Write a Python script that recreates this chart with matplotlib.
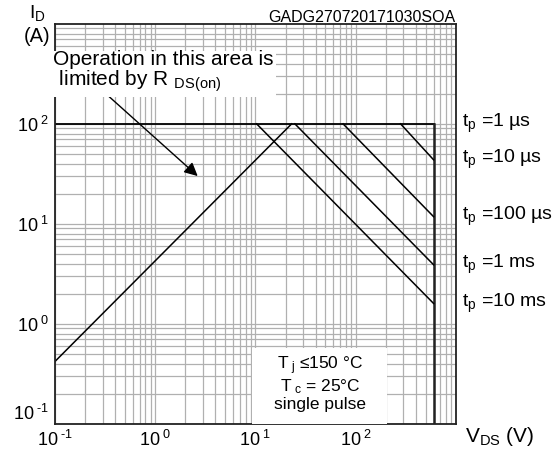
import numpy as np
import matplotlib
matplotlib.use('Agg')
import matplotlib.pyplot as plt
import matplotlib.transforms as mtransforms
from matplotlib.ticker import LogLocator, NullFormatter
from matplotlib.patches import Rectangle

plt.rcParams['font.family'] = ['Liberation Sans', 'DejaVu Sans']
plt.rcParams['mathtext.fontset'] = 'custom'
plt.rcParams['mathtext.rm'] = 'Liberation Sans'
plt.rcParams['mathtext.it'] = 'Liberation Sans'
plt.rcParams['mathtext.default'] = 'regular'

# R_DS(on) limit line
rds_v = [0.1, 23.0]
rds_i = [0.42, 100.0]

# max current / max voltage (1 us boundary)
i_max = 100.0
v_max = 600.0

# pulse lines: start at i_max, end at v_max
pulse_labels = ['1 µs', '10 µs', '100 µs', '1 ms', '10 ms']
pulse_v_start = [281.0, 75.0, 24.8, 10.3]      # 10us, 100us, 1ms, 10ms
pulse_i_end = [43.7, 11.8, 3.9, 1.6]

decades = [0.1, 1, 10, 100]
decade_labels = ['10$^{\\ \u2010 1}$', r'10$^{\ 0}$', r'10$^{\ 1}$', r'10$^{\ 2}$']

fig = plt.figure(figsize=(5.6, 4.5), dpi=100)
ax = fig.add_axes([0.098, 0.058, 0.716, 0.889])
ax.set_xscale('log')
ax.set_yscale('log')
ax.set_xlim(0.1, 1000)
ax.set_ylim(0.1, 1000)

ax.set_xticks(decades)
ax.set_xticklabels(decade_labels)
ax.set_yticks(decades)
ax.set_yticklabels(decade_labels)
ax.get_yticklabels()[0].set_va('bottom')
ax.xaxis.set_minor_locator(LogLocator(base=10, subs=np.arange(2, 10)))
ax.yaxis.set_minor_locator(LogLocator(base=10, subs=np.arange(2, 10)))
ax.xaxis.set_minor_formatter(NullFormatter())
ax.yaxis.set_minor_formatter(NullFormatter())
ax.tick_params(which='both', length=0, labelsize=13)
ax.tick_params(axis='x', pad=4)
ax.tick_params(axis='y', pad=4)
ax.grid(which='both', color='#b0b0b0', lw=0.9)
ax.set_axisbelow(True)
for s in ax.spines.values():
    s.set_linewidth(1.3)
    s.set_color('#222222')

# lines
ax.plot(rds_v, rds_i, color='k', lw=1.1)
ax.plot([0.1, v_max], [i_max, i_max], color='k', lw=1.3)
ax.plot([v_max, v_max], [i_max, 0.1], color='#222222', lw=1.8)
for v0, i1 in zip(pulse_v_start, pulse_i_end):
    ax.plot([v0, v_max], [i_max, i1], color='k', lw=1.1)

# pulse labels on the right
trans = mtransforms.blended_transform_factory(ax.transAxes, ax.transData)
for lab, y in zip(pulse_labels, [i_max] + pulse_i_end):
    ax.text(1.015, y, r't$_p$ =' + lab, transform=trans, fontsize=14,
            va='center', ha='left', clip_on=False)

# R_DS(on) note
ax.text(-0.005, 0.935, 'Operation in this area is\n limited by R $_{DS(on)}$',
        transform=ax.transAxes, fontsize=15, va='top', ha='left',
        linespacing=1.0, zorder=4,
        bbox=dict(fc='white', ec='none', pad=2))
ax.annotate('', xy=(2.79, 28.8), xytext=(0.323, 200),
            arrowprops=dict(arrowstyle='-|>', color='k', lw=1,
                            mutation_scale=20))

# conditions box
ax.add_patch(Rectangle((0.491, 0.0), 0.337, 0.19, transform=ax.transAxes,
                       fc='white', ec='none', zorder=3))
ax.text(0.661, 0.102, 'T$_{\\ j}$ ≤150 °C\nT$_{\\ c}$ = 25°C\nsingle pulse',
        transform=ax.transAxes, fontsize=12.5, ha='center', va='center',
        linespacing=1.05, zorder=4)

# axis titles
fig.text(37 / 560, 1 - 13 / 450, 'I$_D$', fontsize=14, ha='center', va='center')
fig.text(37 / 560, 1 - 37 / 450, '(A)', fontsize=14.5, ha='center', va='center')
fig.text(465 / 560, 1 - 437 / 450, 'V$_{DS}$ (V)', fontsize=15, ha='left', va='center')
fig.text(455 / 560, 1 - 17 / 450, 'GADG270720171030SOA', fontsize=11.5,
         ha='right', va='center')

fig.savefig('out.png', dpi=100)
